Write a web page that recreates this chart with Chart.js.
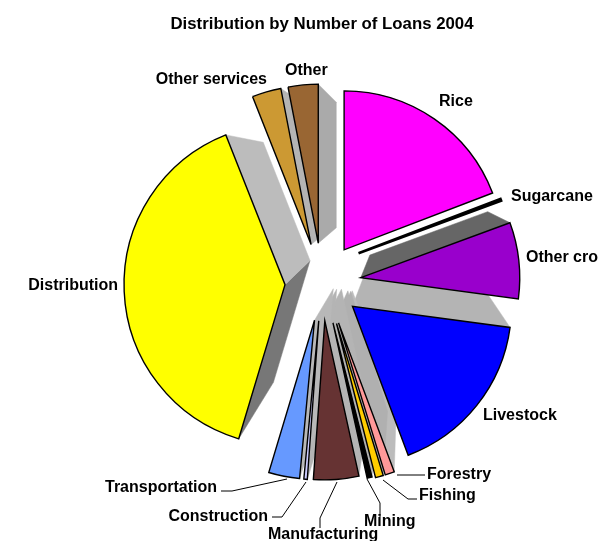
<!DOCTYPE html>
<html>
<head>
<meta charset="utf-8">
<title>Loans 2004</title>
<style>
  html, body { margin: 0; padding: 0; background: #fff; overflow: hidden; }
  canvas { display: block; }
</style>
<script src="https://cdn.jsdelivr.net/npm/chart.js@4"></script>
</head>
<body>
<canvas id="loans" width="598" height="541"></canvas>
<script>
// share of loans by sector, clockwise from twelve o'clock
const categories = ['Rice', 'Sugarcane', 'Other crops', 'Livestock', 'Forestry', 'Fishing', 'Mining',
  'Manufacturing', 'Construction', 'Transportation', 'Distribution', 'Other services', 'Other'];
const shares = [19.2, 0.2, 7.75, 17.2, 0.95, 0.8, 0.5, 4.6, 0.35, 3.15, 39.4, 2.95, 3.05];

const sliceColors = ['#ff00ff', '#000000', '#9900cc', '#0000ff', '#ff9999', '#ffcc00', '#000000',
  '#663333', '#ccccff', '#6699ff', '#ffff00', '#cc9933', '#996633'];
const sliceBorders = [1.4, 2.6, 1.4, 1.4, 1.4, 1.4, 1.4, 1.4, 1.4, 1.4, 1.4, 1.4, 1.4];
// side wall greys, one for the leading radial edge and one for the trailing edge
const wallStart = [null, null, '#666666', '#b4b4b4', '#bcbcbc', '#b0b0b0', '#b0b0b0',
  '#b4b4b4', '#b4b4b4', '#b8b8b8', '#777777', null, null];
const wallEnd = [null, null, null, null, null, null, null,
  null, null, null, '#bcbcbc', '#b4b4b4', '#aaaaaa'];

// small per-slice corrections on top of the common explode distance
const nudgeX = [0, 0, 0, 0, 4, 4, 2, 0, 0, 0, 2, 0, 0];
const nudgeY = [0, -15, 0, 0, 4, 4, 3, 0, 0, 0, 1, 0, 0];
const radiusTrim = [0, 7, 0, 0, 0, 0, 0, 0, 0, 0, -2, 0, 0];

// label text anchor [x, y, align] and leader line points
const labelSpots = [
  [439, 102, 'left'], [511, 197, 'left'], [526, 258, 'left'], [483, 416, 'left'],
  [427, 475, 'left'], [419, 496, 'left'], [364, 522, 'left'], [268, 535, 'left'],
  [268, 517, 'right'], [217, 488, 'right'], [118, 286, 'right'], [267, 80, 'right'], [285, 71, 'left']
];
const leaders = [
  null, null, null, null,
  [[397, 475], [425, 475]],
  [[383, 480], [408, 499], [417, 499]],
  [[367, 479], [380, 503], [380, 517]],
  [[337, 482], [320, 518], [320, 528]],
  [[306, 482], [282, 517], [272, 517]],
  [[287, 479], [232, 491], [221, 491]],
  null, null, null
];

const explodePx = 39;     // every slice is pulled out by the same distance
const pieRadius = 159;
const vanish = { x: 404, y: 170 };  // walls run towards this point
const depth = 0.21;

function toBack(p) {
  return { x: p.x + (vanish.x - p.x) * depth, y: p.y + (vanish.y - p.y) * depth };
}

function drawWall(ctx, a, b, color) {
  const a2 = toBack(a), b2 = toBack(b);
  ctx.fillStyle = color;
  ctx.strokeStyle = color;
  ctx.lineWidth = 0.5;
  ctx.beginPath();
  ctx.moveTo(a.x, a.y);
  ctx.lineTo(b.x, b.y);
  ctx.lineTo(b2.x, b2.y);
  ctx.lineTo(a2.x, a2.y);
  ctx.closePath();
  ctx.fill();
  ctx.stroke();
}

// the built-in arc offset also grows thin slices, so move the elements themselves
const explodePlugin = {
  id: 'explode',
  afterDatasetsUpdate(chart) {
    chart.getDatasetMeta(0).data.forEach((arc, i) => {
      const mid = (arc.startAngle + arc.endAngle) / 2;
      arc.x += Math.cos(mid) * explodePx + nudgeX[i];
      arc.y += Math.sin(mid) * explodePx + nudgeY[i];
      arc.outerRadius -= radiusTrim[i];
    });
  }
};

const wallsPlugin = {
  id: 'walls',
  beforeDatasetsDraw(chart) {
    const ctx = chart.ctx;
    ctx.save();
    chart.getDatasetMeta(0).data.forEach((arc, i) => {
      const apex = { x: arc.x, y: arc.y };
      const rim = ang => ({ x: arc.x + Math.cos(ang) * arc.outerRadius, y: arc.y + Math.sin(ang) * arc.outerRadius });
      if (wallStart[i]) drawWall(ctx, apex, rim(arc.startAngle), wallStart[i]);
      if (wallEnd[i]) drawWall(ctx, apex, rim(arc.endAngle), wallEnd[i]);
    });
    ctx.restore();
  }
};

const labelsPlugin = {
  id: 'sliceLabels',
  afterDatasetsDraw(chart) {
    const ctx = chart.ctx;
    ctx.save();
    ctx.strokeStyle = '#000';
    ctx.lineWidth = 1;
    leaders.forEach(line => {
      if (!line) return;
      ctx.beginPath();
      line.forEach((p, k) => k ? ctx.lineTo(p[0], p[1]) : ctx.moveTo(p[0], p[1]));
      ctx.stroke();
    });
    ctx.fillStyle = '#000';
    ctx.font = 'bold 16px "Liberation Sans", Arial, sans-serif';
    ctx.textBaseline = 'middle';
    categories.forEach((name, i) => {
      const spot = labelSpots[i];
      ctx.textAlign = spot[2];
      ctx.fillText(name, spot[0], spot[1]);
    });
    ctx.restore();
  }
};

new Chart(document.getElementById('loans'), {
  type: 'pie',
  data: {
    labels: categories,
    datasets: [{
      data: shares,
      backgroundColor: sliceColors,
      borderColor: '#000',
      borderWidth: sliceBorders,
      borderJoinStyle: 'miter',
      clip: false
    }]
  },
  options: {
    responsive: false,
    animation: false,
    radius: pieRadius,
    layout: { padding: { left: 46, right: 0, top: 0, bottom: 25 } },
    plugins: {
      legend: { display: false },
      tooltip: { enabled: false },
      title: {
        display: true,
        text: 'Distribution by Number of Loans 2004',
        color: '#000',
        font: { family: '"Liberation Sans", Arial, sans-serif', size: 16.8, weight: 'bold' },
        padding: { top: 14, bottom: 13.8 }
      }
    }
  },
  plugins: [explodePlugin, wallsPlugin, labelsPlugin]
});
</script>
</body>
</html>
